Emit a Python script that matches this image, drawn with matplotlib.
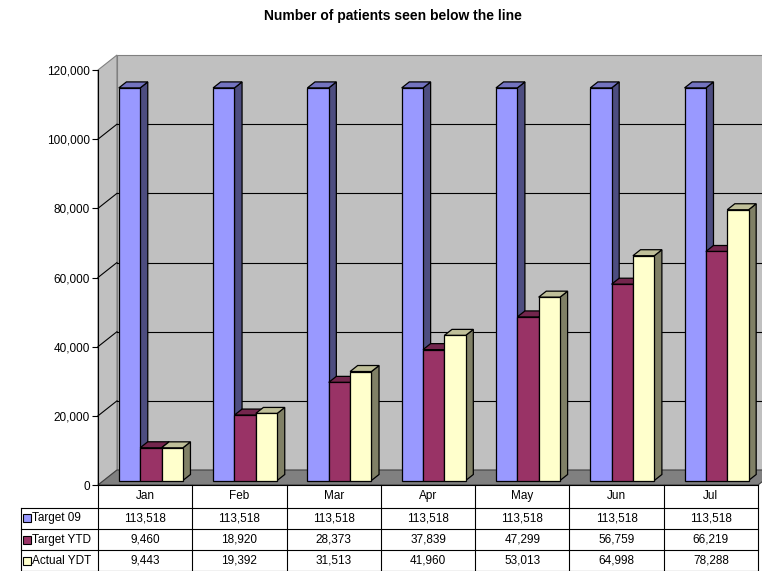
import matplotlib.pyplot as plt
from matplotlib.patches import Polygon, Rectangle
from matplotlib.ticker import FuncFormatter

plt.rcParams['font.family'] = ['Liberation Sans', 'DejaVu Sans']

months = ['Jan', 'Feb', 'Mar', 'Apr', 'May', 'Jun', 'Jul']
series_names = ['Target 09', 'Target YTD', 'Actual YDT']
target_09 = [113518, 113518, 113518, 113518, 113518, 113518, 113518]
target_ytd = [9460, 18920, 28373, 37839, 47299, 56759, 66219]
actual_ydt = [9443, 19392, 31513, 41960, 53013, 64998, 78288]
y_ticks = [0, 20000, 40000, 60000, 80000, 100000, 120000]

series = [target_09, target_ytd, actual_ydt]
face_col = ['#9999ff', '#993366', '#ffffcc']
side_col = ['#4d4d80', '#4d1a33', '#808066']
top_col = ['#7373bf', '#73264d', '#bfbf99']

W, H = 762, 571
fig = plt.figure(figsize=(W / 100, H / 100), dpi=100)
ax = fig.add_axes([98 / W, 86 / H, 660 / W, 415 / H])
ax.set_xlim(0, 7)
ax.set_ylim(0, 120000)
ax.patch.set_visible(False)

# depth of the 3d box (x in categories, y in values)
dx = 19 / 660 * 7
dy = 15 / 415 * 120000
ymax = y_ticks[-1]

# walls and floor
ax.add_patch(Polygon([(0, 0), (dx, dy), (dx, ymax + dy), (0, ymax)],
                     closed=True, fc='#c0c0c0', ec='#808080', lw=0.8, zorder=0, clip_on=False))
ax.add_patch(Rectangle((dx, dy), 7, ymax, fc='#c0c0c0', ec='#808080', lw=0.8,
                       zorder=0, clip_on=False))
ax.add_patch(Polygon([(0, 0), (7, 0), (7 + dx, dy), (dx, dy)],
                     closed=True, fc='#808080', ec='#404040', lw=0.8, zorder=0.5, clip_on=False))

# gridlines on back and side wall
for v in y_ticks[1:-1]:
    ax.plot([dx, 7 + dx], [v + dy, v + dy], color='black', lw=0.8, zorder=1, clip_on=False)
    ax.plot([0, dx], [v, v + dy], color='black', lw=0.8, zorder=1, clip_on=False)


def bar3d(x0, x1, h, f0, f1, k, z):
    sx0, sy0 = f0 * dx, f0 * dy
    sx1, sy1 = f1 * dx, f1 * dy
    front = [(x0 + sx0, sy0), (x1 + sx0, sy0), (x1 + sx0, h + sy0), (x0 + sx0, h + sy0)]
    side = [(x1 + sx0, sy0), (x1 + sx1, sy1), (x1 + sx1, h + sy1), (x1 + sx0, h + sy0)]
    top = [(x0 + sx0, h + sy0), (x1 + sx0, h + sy0), (x1 + sx1, h + sy1), (x0 + sx1, h + sy1)]
    for pts, c in ((side, side_col[k]), (top, top_col[k]), (front, face_col[k])):
        ax.add_patch(Polygon(pts, closed=True, fc=c, ec='black', lw=0.9,
                             joinstyle='miter', zorder=z, clip_on=False))


bw = 0.2264
gap = (1 - 3 * bw) / 2
z = 2
for i in range(len(months)):
    for k, vals in enumerate(series):
        x0 = i + gap + k * bw
        bar3d(x0, x0 + bw, vals[i], 0.3, 0.7, k, z)
        z += 1

ax.set_xticks([])
ax.set_yticks(y_ticks)
ax.yaxis.set_major_formatter(FuncFormatter(lambda v, p: f'{int(v):,}'))
ax.tick_params(axis='y', length=4.5, width=0.8, pad=1.5, labelsize=8.5)
for s in ('top', 'right'):
    ax.spines[s].set_visible(False)
ax.spines['left'].set_zorder(50)
ax.spines['bottom'].set_zorder(50)

fig.text(393 / W, 1 - 16 / H, 'Number of patients seen below the line',
         ha='center', va='center', fontsize=10, fontweight='bold')

# data table under the chart
x_left = -(98 - 20.7) / (660 / 7)
tax = fig.add_axes([20.7 / W, 0, (758 - 20.7) / W, 86 / H])
tax.set_xlim(x_left, 7)
tax.set_ylim(86, 0)
tax.axis('off')
rows = [0, 22.5, 44, 65, 86]
for i in range(len(months) + 1):
    tax.plot([i, i], [0, 86], color='black', lw=0.8, clip_on=False)
tax.plot([x_left, x_left], [rows[1], 86], color='black', lw=0.8, clip_on=False)
for r in rows[1:-1]:
    tax.plot([x_left, 7], [r, r], color='black', lw=0.8, clip_on=False)
tax.plot([x_left, 7], [86, 86], color='black', lw=0.8, clip_on=False)

for i, m in enumerate(months):
    tax.text(i + 0.5, (rows[0] + rows[1]) / 2, m, ha='center', va='center', fontsize=8.5)

px = 660 / 7
for k, vals in enumerate(series):
    yc = (rows[k + 1] + rows[k + 2]) / 2
    tax.add_patch(Rectangle((x_left + 2 / px, yc - 4), 8 / px, 8, fc=face_col[k],
                            ec='black', lw=0.8, clip_on=False))
    tax.text(x_left + 11 / px, yc, series_names[k], ha='left', va='center', fontsize=8.5)
    for i, v in enumerate(vals):
        tax.text(i + 0.5, yc, f'{v:,}', ha='center', va='center', fontsize=8.5)

fig.savefig('out.png', dpi=100)
